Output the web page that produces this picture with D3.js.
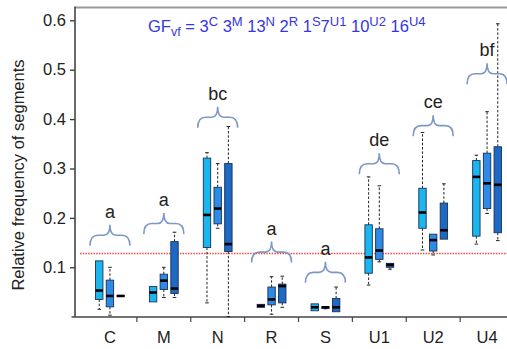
<!DOCTYPE html>
<html><head><meta charset="utf-8">
<script src="https://cdn.jsdelivr.net/npm/d3@7/dist/d3.min.js"></script>
<style>body{margin:0;background:#fff;}svg{display:block;font-family:"Liberation Sans",Arial,sans-serif;}</style>
</head><body>
<svg id="c" width="507" height="349"></svg>
<script>
// ---- data ----
const categories = ["C","M","N","R","S","U1","U2","U4"];
const yTicks = [0.1,0.2,0.3,0.4,0.5,0.6];
// each entry: [lowWhisker, q1, median, q3, highWhisker]
const series1 = [
  [0.015,0.035,0.053,0.113,0.113],
  [0.030,0.030,0.049,0.061,0.061],
  [0.028,0.140,0.206,0.321,0.332],
  [0.019,0.019,0.022,0.025,0.025],
  [0.012,0.012,0.019,0.026,0.026],
  [0.064,0.088,0.120,0.186,0.283],
  [0.135,0.179,0.211,0.260,0.373],
  [0.147,0.163,0.283,0.316,0.327]
];
const series2 = [
  [0.003,0.020,0.042,0.074,0.100],
  [0.039,0.055,0.073,0.086,0.100],
  [0.179,0.188,0.219,0.262,0.310],
  [0.005,0.024,0.035,0.060,0.081],
  [0.016,0.017,0.019,0.020,0.020],
  [0.111,0.116,0.134,0.178,0.265],
  [0.125,0.133,0.155,0.167,0.167],
  [0.209,0.219,0.270,0.331,0.415]
];
const series3 = [
  [0.041,0.041,0.042,0.043,0.043],
  [0.039,0.047,0.057,0.152,0.171],
  [0.000,0.132,0.147,0.310,0.385],
  [0.019,0.028,0.062,0.066,0.082],
  [0.010,0.010,0.019,0.037,0.060],
  [0.096,0.100,0.105,0.108,0.108],
  [0.157,0.157,0.175,0.230,0.269],
  [0.154,0.170,0.267,0.344,0.593]
];
const groupLetters = ["a","a","bc","a","a","de","ce","bf"];
const braceLevels = [0.186,0.210,0.425,0.152,0.111,0.331,0.408,0.513];
const gfCounts = [3,3,13,2,1,7,10,16];
const threshold = 0.128;

// ---- drawing ----
const svg = d3.select("#c");
const x = d3.scaleBand().domain(categories).range([83, 514]);
const y = d3.scaleLinear().domain([0, 0.6]).range([316.7, 20.3]);
const colors = ["#1cb6ee", "#2b8be6", "#1e69c2"];
const offsets = [-10.7, 0, 10.7];
const bw = 7.4;

// frame
svg.append("line").attr("x1",75).attr("x2",507).attr("y1",7.5).attr("y2",7.5)
  .attr("stroke","#999").attr("stroke-width",2);

// y axis
const yAxis = d3.axisLeft(y).tickValues(yTicks).tickSize(5).tickPadding(4).tickFormat(d3.format(".1f"));
const gy = svg.append("g").attr("transform","translate(75,0)").call(yAxis);
gy.select(".domain").remove();
gy.selectAll(".tick line").attr("stroke","#333").attr("stroke-width",1.3);
gy.selectAll(".tick text").attr("font-size",16.5).attr("fill","#222");
svg.append("line").attr("x1",75).attr("x2",75).attr("y1",6.5).attr("y2",317)
  .attr("stroke","#444").attr("stroke-width",1.6);

// x axis
const xAxis = d3.axisBottom(x).tickSize(0).tickPadding(14);
const gx = svg.append("g").attr("transform","translate(0,317)").call(xAxis);
gx.select(".domain").remove();
gx.selectAll(".tick text").attr("font-size",16.5).attr("fill","#222");
svg.append("line").attr("x1",71.5).attr("x2",507).attr("y1",317).attr("y2",317)
  .attr("stroke","#444").attr("stroke-width",1.6);
categories.slice(1).forEach(c => {
  svg.append("line").attr("x1",x(c)).attr("x2",x(c)).attr("y1",317).attr("y2",322)
    .attr("stroke","#444").attr("stroke-width",1.2);
});

// y label
svg.append("text").attr("transform","translate(24,175) rotate(-90)")
  .attr("text-anchor","middle").attr("font-size",16.5).attr("fill","#222")
  .text("Relative frequency of segments");

// threshold
svg.append("line").attr("x1",80).attr("x2",507)
  .attr("y1",y(threshold)).attr("y2",y(threshold))
  .attr("stroke","#ea4a40").attr("stroke-width",1.4).attr("stroke-dasharray","1.5,1.2");

// boxes
[series1, series2, series3].forEach((ser, si) => {
  ser.forEach((d, i) => {
    const cx = x(categories[i]) + x.bandwidth()/2 + offsets[si];
    const g = svg.append("g");
    const [lo, q1, md, q3, hi] = d;
    if (hi > q3) {
      g.append("line").attr("x1",cx).attr("x2",cx).attr("y1",y(q3)).attr("y2",y(hi))
        .attr("stroke","#222").attr("stroke-width",1).attr("stroke-dasharray","2.5,1.8");
      g.append("line").attr("x1",cx-1.8).attr("x2",cx+1.8).attr("y1",y(hi)).attr("y2",y(hi))
        .attr("stroke","#222").attr("stroke-width",1);
    }
    if (lo < q1) {
      g.append("line").attr("x1",cx).attr("x2",cx).attr("y1",y(q1)).attr("y2",y(lo))
        .attr("stroke","#222").attr("stroke-width",1).attr("stroke-dasharray","2.5,1.8");
      g.append("line").attr("x1",cx-1.8).attr("x2",cx+1.8).attr("y1",y(lo)).attr("y2",y(lo))
        .attr("stroke","#222").attr("stroke-width",1);
    }
    g.append("rect").attr("x",cx-bw/2).attr("width",bw)
      .attr("y",y(q3)).attr("height",Math.max(0.5, y(q1)-y(q3)))
      .attr("fill",colors[si]).attr("stroke","#1b2f55").attr("stroke-width",0.9);
    g.append("line").attr("x1",cx-bw/2).attr("x2",cx+bw/2).attr("y1",y(md)).attr("y2",y(md))
      .attr("stroke","#000").attr("stroke-width",2.6);
  });
});

// braces + letters
function bracePath(cx, w, top, h) {
  const x0 = cx - w/2, x1 = cx + w/2, yb = top + h, ym = top + h*0.5;
  const q = 6;
  return `M${x0},${yb} Q${x0},${ym} ${x0+q+2},${ym} L${cx-q},${ym} Q${cx},${ym} ${cx},${top}` +
         ` Q${cx},${ym} ${cx+q},${ym} L${x1-q-2},${ym} Q${x1},${ym} ${x1},${yb}`;
}
categories.forEach((c, i) => {
  const cx = x(c) + x.bandwidth()/2;
  const top = y(braceLevels[i]);
  svg.append("path").attr("d", bracePath(cx, 40, top, 21))
    .attr("fill","none").attr("stroke","#7d97c6").attr("stroke-width",1.6);
  svg.append("text").attr("x",cx).attr("y",top-7).attr("text-anchor","middle")
    .attr("font-size",18).attr("fill","#222").text(groupLetters[i]);
});

// GF title
const t = svg.append("text").attr("x",148).attr("y",32).attr("font-size",16.5).attr("fill","#3535e8");
t.append("tspan").text("GF");
t.append("tspan").attr("font-size",12.5).attr("dy",4).text("vf");
t.append("tspan").attr("dy",-4).text(" =");
categories.forEach((c, i) => {
  t.append("tspan").attr("dy", i === 0 ? 0 : 6.5).text((c === "U1" ? "" : " ") + gfCounts[i]);
  t.append("tspan").attr("font-size",13).attr("dy",-6.5).text(c);
});
</script>
</body></html>
